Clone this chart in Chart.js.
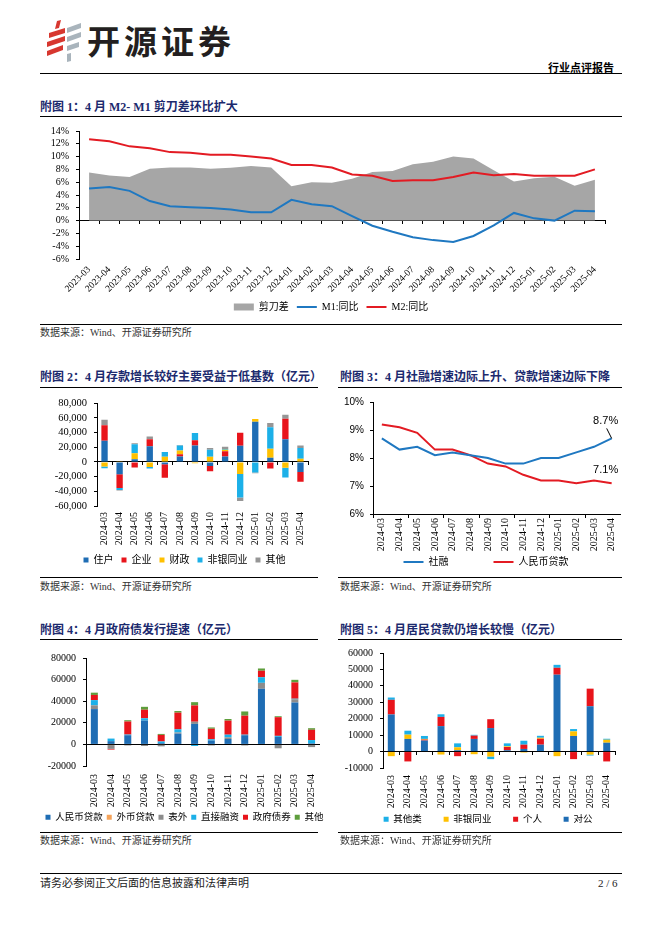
<!DOCTYPE html>
<html>
<head>
<meta charset="utf-8">
<script src="https://cdn.jsdelivr.net/npm/chart.js"></script>
<style>
  body { margin:0; background:#fff; width:662px; height:936px; position:relative; overflow:hidden;
         font-family:"Liberation Serif","Noto Sans CJK SC",serif; }
  .title { position:absolute; font-weight:bold; font-size:12px; line-height:14px; color:#1c2a6e; white-space:nowrap; }
  .rule { position:absolute; height:0; border-top:1px solid #000; }
  .src { position:absolute; font-size:10px; line-height:12px; color:#333; white-space:nowrap; }
  canvas { position:absolute; }
</style>
</head>
<body>

<!-- header -->
<svg style="position:absolute;left:44px;top:20px" width="42" height="44" viewBox="0 0 42 44">
  <polygon points="13,1 17,0 15,8 11,9" fill="#d7372f"/>
  <polygon points="5,13 21,8 21,13 5,18" fill="#d7372f"/>
  <polygon points="3,22 21,16 21,21 3,27" fill="#d7372f"/>
  <polygon points="3,31 19,25 19,30 3,36" fill="#d7372f"/>
  <polygon points="23,8 37,3 37,8 23,13" fill="#a9b4bc"/>
  <polygon points="23,17 37,12 37,17 23,22" fill="#a9b4bc"/>
  <polygon points="23,26 35,22 35,27 23,31" fill="#a9b4bc"/>
  <polygon points="23,34 27,33 27,41 23,42" fill="#a9b4bc"/>
</svg>
<div style="position:absolute;left:87px;top:20px;font:700 33px 'Noto Sans CJK SC';letter-spacing:4px;color:#231f20;line-height:40px">开源证券</div>
<div style="position:absolute;left:548px;top:60px;font:700 11px 'Noto Sans CJK SC';line-height:14px;color:#000">行业点评报告</div>
<div class="rule" style="left:40px;top:73px;width:582px;border-top-width:1.5px"></div>

<!-- chart 1 -->
<div class="title" style="left:40px;top:100px">附图 1：4 月 M2- M1 剪刀差环比扩大</div>
<div class="rule" style="left:40px;top:116px;width:582px;border-top-width:1.5px"></div>
<canvas id="c1" width="582" height="204" style="left:40px;top:118px"></canvas>
<div class="rule" style="left:40px;top:324px;width:582px"></div>
<div class="src" style="left:40px;top:327px">数据来源：Wind、开源证券研究所</div>

<!-- chart 2 -->
<div class="title" style="left:40px;top:370px">附图 2：4 月存款增长较好主要受益于低基数（亿元）</div>
<div class="rule" style="left:40px;top:387px;width:278px;border-top-width:1.5px"></div>
<canvas id="c2" width="289" height="185" style="left:40px;top:390px"></canvas>
<div class="rule" style="left:40px;top:577px;width:278px"></div>
<div class="src" style="left:40px;top:581px">数据来源：Wind、开源证券研究所</div>

<!-- chart 3 -->
<div class="title" style="left:340px;top:370px">附图 3：4 月社融增速边际上升、贷款增速边际下降</div>
<div class="rule" style="left:338px;top:387px;width:284px;border-top-width:1.5px"></div>
<canvas id="c3" width="302" height="187" style="left:335px;top:390px"></canvas>
<div class="rule" style="left:338px;top:577px;width:284px"></div>
<div class="src" style="left:340px;top:581px">数据来源：Wind、开源证券研究所</div>

<!-- chart 4 -->
<div class="title" style="left:40px;top:623px">附图 4：4 月政府债发行提速（亿元）</div>
<div class="rule" style="left:40px;top:639px;width:278px;border-top-width:1.5px"></div>
<canvas id="c4" width="312" height="187" style="left:20px;top:645px"></canvas>
<div class="rule" style="left:40px;top:832px;width:278px"></div>
<div class="src" style="left:40px;top:835px">数据来源：Wind、开源证券研究所</div>

<!-- chart 5 -->
<div class="title" style="left:340px;top:623px">附图 5：4 月居民贷款仍增长较慢（亿元）</div>
<div class="rule" style="left:338px;top:639px;width:284px;border-top-width:1.5px"></div>
<canvas id="c5" width="306" height="194" style="left:335px;top:640px"></canvas>
<div class="rule" style="left:338px;top:832px;width:284px"></div>
<div class="src" style="left:340px;top:835px">数据来源：Wind、开源证券研究所</div>

<!-- footer -->
<div class="rule" style="left:40px;top:873px;width:582px"></div>
<div style="position:absolute;left:40px;top:876px;font-size:11px;line-height:14px;color:#222">请务必参阅正文后面的信息披露和法律声明</div>
<div style="position:absolute;left:598px;top:876px;font-size:11px;line-height:14px;color:#222">2 / 6</div>

<script>
// ---- data ----
const months23 = ['2023-03','2023-04','2023-05','2023-06','2023-07','2023-08','2023-09','2023-10','2023-11','2023-12',
                  '2024-01','2024-02','2024-03','2024-04','2024-05','2024-06','2024-07','2024-08','2024-09','2024-10',
                  '2024-11','2024-12','2025-01','2025-02','2025-03','2025-04'];
const months24 = ['2024-03','2024-04','2024-05','2024-06','2024-07','2024-08','2024-09','2024-10','2024-11','2024-12',
                  '2025-01','2025-02','2025-03','2025-04'];

// 附图1 (%)
const scissorGap = [7.5, 7.05, 6.8, 8.1, 8.3, 8.3, 8.1, 8.25, 8.55, 8.3, 5.35, 6.0, 5.9, 6.55, 7.6, 7.75, 8.8, 9.2, 10.0, 9.7, 7.85, 6.1, 6.6, 6.85, 5.45, 6.4];
const m1Yoy = [5.0, 5.25, 4.65, 3.05, 2.25, 2.1, 1.95, 1.75, 1.3, 1.3, 3.25, 2.55, 2.25, 0.7, -0.8, -1.75, -2.6, -3.05, -3.35, -2.4, -0.75, 1.2, 0.35, 0.0, 1.55, 1.45];
const m2Yoy = [12.7, 12.4, 11.6, 11.3, 10.7, 10.6, 10.3, 10.3, 10.0, 9.7, 8.7, 8.7, 8.3, 7.2, 7.0, 6.2, 6.3, 6.3, 6.8, 7.5, 7.1, 7.3, 7.0, 7.0, 7.0, 8.0];

// 附图2 (亿元)
const depHousehold = [29000, -16700, 3800, 21300, -3000, 7500, 22600, -5500, 7500, 22200, 55000, 5800, 31000, -13800];
const depCorporate = [21000, -18600, -7500, 9800, -18600, 3000, 7100, -7000, 7000, 17800, 0, -8900, 28000, -13300];
const depFiscal = [-6000, 1000, 8000, -7000, 7000, 5300, -1800, 7000, 2200, -16400, 3500, 12400, -8000, 4400];
const depNonBank = [-2500, -3000, 12400, -1800, 6700, 6700, 9800, 9800, 1000, -32000, -14200, 29300, -13300, 14700];
const depOther = [7500, -500, 1300, 3500, 0, 500, 0, 2200, 3000, -4900, -1000, 5800, 5300, 3500];

// 附图3 (%)
const tsfYoy = [8.7, 8.3, 8.4, 8.1, 8.2, 8.1, 8.0, 7.8, 7.8, 8.0, 8.0, 8.2, 8.4, 8.7];
const loanYoy = [9.2, 9.1, 8.9, 8.3, 8.3, 8.1, 7.8, 7.7, 7.4, 7.2, 7.2, 7.1, 7.2, 7.1];

// 附图4 (亿元)
const tsfRmbLoan = [32700, 3000, 8500, 22100, 1200, 10000, 19000, 3600, 5000, 8500, 51500, 7000, 38800, 1000];
const tsfFxLoan = [0, -600, 0, 0, -400, 0, 0, 0, 0, 0, 0, 0, 0, 0];
const tsfOffBs = [3500, -3500, -1000, -1500, -1400, 1000, 2000, -1000, 1500, -1000, 5500, -3600, 3000, -2500];
const tsfDirect = [4800, 2400, 600, 2100, 1500, 3000, -1500, 1200, 2500, 500, 5200, 900, 500, 3000];
const tsfGovBond = [4800, -700, 12100, 7900, 6100, 15400, 15100, 9700, 13000, 17600, 6000, 17300, 15100, 9500];
const tsfOther = [2100, 0, 1200, 2700, 900, 1500, 3000, 1200, 1500, 3900, 2100, 900, 2400, 1500];

// 附图5 (亿元)
const loanCorporate = [22600, 7700, 6700, 15500, 800, 7700, 14300, 800, 1600, 4200, 46800, 9500, 27600, 5400];
const loanPersonal = [8900, -6000, 600, 5600, -2800, 2000, 5400, 2000, 2600, 3600, 4200, -4600, 10700, -6000];
const loanNonBank = [-2800, 2600, 400, -1800, 1800, -1600, -3000, 400, -600, 600, -2800, 2800, -1800, 1800];
const loanOther = [1400, 2400, 1800, 1600, 2400, 500, -1600, 1800, 2400, 1200, 1800, 1400, -600, 600];

// ---- colours ----
const cBlue = '#1f6db4', cRed = '#e8141b', cYellow = '#ffc000', cSky = '#1cb0e8', cGray = '#969696';

Chart.defaults.font.family = "'Liberation Serif','Noto Sans CJK SC',serif";
Chart.defaults.color = '#000';

function fixWidth(w) { return s => { s.width = w; }; }
function fixHeight(h) { return s => { s.height = h; }; }

function valueAxis(min, max, step, fmt, w, font, stacked) {
  return {
    min: min, max: max, stacked: stacked,
    ticks: { stepSize: step, autoSkip: false, callback: fmt, font: font || { size: 10 }, color: '#000', padding: 7 },
    grid: { drawOnChartArea: false, tickLength: 3, color: '#000' },
    border: { color: '#000' },
    afterFit: fixWidth(w)
  };
}
// empty right-hand axis: only reserves room so the legend can be centred like the original
function spacerAxis(w) {
  return { type: 'linear', position: 'right', grid: { display: false }, border: { display: false },
           ticks: { display: false }, afterFit: fixWidth(w) };
}
function labelAxis(rot, h, pad, size) {
  return {
    type: 'category', offset: true, stacked: true,
    grid: { display: false, drawTicks: false },
    border: { display: false },
    ticks: { autoSkip: false, minRotation: rot, maxRotation: rot, padding: pad, font: { size: size }, color: '#000' },
    afterFit: fixHeight(h)
  };
}
function zeroAxis(tl) {
  return {
    type: 'category', axis: 'x', position: { y: 0 }, offset: true,
    grid: { offset: true, drawOnChartArea: false, drawTicks: tl > 0, tickLength: tl, color: '#000' },
    border: { color: '#000' },
    ticks: { display: false }
  };
}
function bars(label, data, color) {
  return { label: label, data: data, backgroundColor: color, borderColor: color, borderWidth: 0,
           barPercentage: 0.42, categoryPercentage: 1 };
}
// legend items in a given dataset order, with blank gaps between them
function spacedLegend(order, gapText) {
  return chart => {
    const items = Chart.defaults.plugins.legend.labels.generateLabels(chart);
    const out = [];
    order.forEach((idx, k) => {
      if (k > 0) out.push({ text: gapText, fillStyle: 'rgba(0,0,0,0)', strokeStyle: 'rgba(0,0,0,0)',
                            lineWidth: 0, hidden: false, pointStyle: 'line', datasetIndex: -1 });
      out.push(items.find(it => it.datasetIndex === idx));
    });
    return out;
  };
}
const pctFmt = v => v + '%';
const commaFmt = v => v.toLocaleString('en-US');

// ---- 附图1 ----
new Chart(document.getElementById('c1'), {
  type: 'line',
  data: {
    labels: months23,
    datasets: [
      { label: '剪刀差', data: scissorGap, fill: 'origin', backgroundColor: '#a6a6a6', borderColor: '#a6a6a6',
        borderWidth: 0, pointRadius: 0, pointStyle: 'rect', order: 3 },
      { label: 'M1:同比', data: m1Yoy, fill: false, borderColor: '#1f78c1', backgroundColor: '#1f78c1',
        borderWidth: 2, pointRadius: 0, pointStyle: 'line', pointBorderWidth: 2, pointBorderColor: '#1f78c1', order: 2 },
      { label: 'M2:同比', data: m2Yoy, fill: false, borderColor: '#e31b23', backgroundColor: '#e31b23',
        borderWidth: 2, pointRadius: 0, pointStyle: 'line', pointBorderWidth: 2, pointBorderColor: '#e31b23', order: 1 }
    ]
  },
  options: {
    responsive: false, animation: false,
    layout: { padding: { top: 8, right: 0, left: 0, bottom: 0 } },
    plugins: {
      legend: { position: 'bottom',
                labels: { usePointStyle: true, pointStyleWidth: 20, boxHeight: 7, padding: 8, font: { size: 10 }, color: '#000',
                          sort: (a, b) => a.datasetIndex - b.datasetIndex } },
      tooltip: { enabled: false }
    },
    scales: {
      x: labelAxis(45, 35, 5, 9.5),
      x0: zeroAxis(3),
      y: valueAxis(-6, 14, 2, pctFmt, 39, { size: 10 }, false),
      yr: spacerAxis(17)
    }
  }
});

// ---- 附图2 ----
new Chart(document.getElementById('c2'), {
  type: 'bar',
  data: {
    labels: months24,
    datasets: [
      bars('住户', depHousehold, cBlue),
      bars('企业', depCorporate, cRed),
      bars('财政', depFiscal, cYellow),
      bars('非银同业', depNonBank, cSky),
      bars('其他', depOther, cGray)
    ]
  },
  options: {
    responsive: false, animation: false,
    layout: { padding: { top: 10, right: 0, left: 0, bottom: 0 } },
    plugins: {
      legend: { position: 'bottom', labels: { boxWidth: 5, boxHeight: 5, padding: 8, font: { size: 10 }, color: '#000' } },
      tooltip: { enabled: false }
    },
    scales: {
      x: labelAxis(90, 41, 6, 10),
      x0: zeroAxis(3),
      y: valueAxis(-60000, 80000, 20000, commaFmt, 57, { size: 10.5 }, true),
      yr: spacerAxis(21)
    }
  }
});

// ---- 附图3 ----
const endLabels = {
  id: 'endLabels',
  afterDatasetsDraw(chart) {
    const ctx = chart.ctx;
    ctx.save();
    ctx.font = "11px 'Liberation Sans'";
    ctx.fillStyle = '#000';
    ctx.strokeStyle = '#000';
    ctx.lineWidth = 1;
    ctx.textAlign = 'center';
    ctx.textBaseline = 'middle';
    chart.data.datasets.forEach((ds, i) => {
      const pts = chart.getDatasetMeta(i).data;
      const p = pts[pts.length - 1];
      const v = ds.data[ds.data.length - 1];
      if (i === 0) {
        ctx.beginPath();
        ctx.moveTo(p.x - 5, p.y - 10);
        ctx.lineTo(p.x, p.y);
        ctx.stroke();
        ctx.fillText(v.toFixed(1) + '%', p.x - 6, p.y - 17);
      } else {
        ctx.fillText(v.toFixed(1) + '%', p.x - 6, p.y - 13);
      }
    });
    ctx.restore();
  }
};

new Chart(document.getElementById('c3'), {
  type: 'line',
  data: {
    labels: months24,
    datasets: [
      { label: '社融', data: tsfYoy, borderColor: '#1f78c1', backgroundColor: '#1f78c1', borderWidth: 2,
        pointRadius: 0, pointStyle: 'line', pointBorderWidth: 2, pointBorderColor: '#1f78c1', fill: false },
      { label: '人民币贷款', data: loanYoy, borderColor: '#e31b23', backgroundColor: '#e31b23', borderWidth: 2,
        pointRadius: 0, pointStyle: 'line', pointBorderWidth: 2, pointBorderColor: '#e31b23', fill: false }
    ]
  },
  options: {
    responsive: false, animation: false,
    layout: { padding: { top: 7, right: 0, left: 0, bottom: 0 } },
    plugins: {
      legend: { position: 'bottom',
                labels: { usePointStyle: true, pointStyleWidth: 20, boxHeight: 7, padding: 5, font: { size: 10 }, color: '#000',
                          generateLabels: spacedLegend([0, 1], '\u3000') } },
      tooltip: { enabled: false }
    },
    scales: {
      x: {
        type: 'category', offset: true,
        grid: { display: true, offset: true, drawOnChartArea: false, tickLength: 4,
                tickColor: c => (c.index % 2 === 0 ? '#000' : 'rgba(0,0,0,0)') },
        border: { color: '#000' },
        ticks: { autoSkip: false, minRotation: 90, maxRotation: 90, padding: 0, font: { size: 10 }, color: '#000' },
        afterFit: fixHeight(38)
      },
      y: {
        min: 6, max: 10,
        ticks: { stepSize: 1, autoSkip: false, callback: pctFmt, font: { family: "'Liberation Sans'", size: 10 }, color: '#000', padding: 6 },
        grid: { drawOnChartArea: false, tickLength: 3, color: '#000' },
        border: { color: '#000' },
        afterFit: fixWidth(38)
      },
      yr: spacerAxis(16.5)
    }
  },
  plugins: [endLabels]
});

// ---- 附图4 ----
new Chart(document.getElementById('c4'), {
  type: 'bar',
  data: {
    labels: months24,
    datasets: [
      bars('人民币贷款', tsfRmbLoan, cBlue),
      bars('外币贷款', tsfFxLoan, '#f5a35a'),
      bars('表外', tsfOffBs, '#8c8c8c'),
      bars('直接融资', tsfDirect, cSky),
      bars('政府债券', tsfGovBond, cRed),
      bars('其他', tsfOther, '#5e9e3c')
    ]
  },
  options: {
    responsive: false, animation: false,
    layout: { padding: { top: 11, right: 0, left: 17, bottom: 0 } },
    plugins: {
      legend: { position: 'bottom', labels: { boxWidth: 5, boxHeight: 5, padding: 4, font: { size: 9.5 }, color: '#000' } },
      tooltip: { enabled: false }
    },
    scales: {
      x: labelAxis(90, 42.5, 8, 10),
      x0: zeroAxis(0),
      y: valueAxis(-20000, 80000, 20000, v => String(v), 49, { size: 10 }, true),
      yr: spacerAxis(12)
    }
  }
});

// ---- 附图5 ----
new Chart(document.getElementById('c5'), {
  type: 'bar',
  data: {
    labels: months24,
    datasets: [
      bars('对公', loanCorporate, cBlue),
      bars('个人', loanPersonal, cRed),
      bars('非银同业', loanNonBank, cYellow),
      bars('其他类', loanOther, cSky)
    ]
  },
  options: {
    responsive: false, animation: false,
    layout: { padding: { top: 11, right: 0, left: 0, bottom: 0 } },
    plugins: {
      legend: { position: 'bottom',
                labels: { boxWidth: 5, boxHeight: 5, padding: 6, font: { size: 9.5 }, color: '#000',
                          generateLabels: spacedLegend([3, 2, 1, 0], '') } },
      tooltip: { enabled: false }
    },
    scales: {
      x: labelAxis(90, 40.5, 7, 10),
      x0: zeroAxis(3),
      y: valueAxis(-10000, 60000, 10000, v => String(v), 48, { size: 10 }, true),
      yr: spacerAxis(26)
    }
  }
});
</script>
</body>
</html>
